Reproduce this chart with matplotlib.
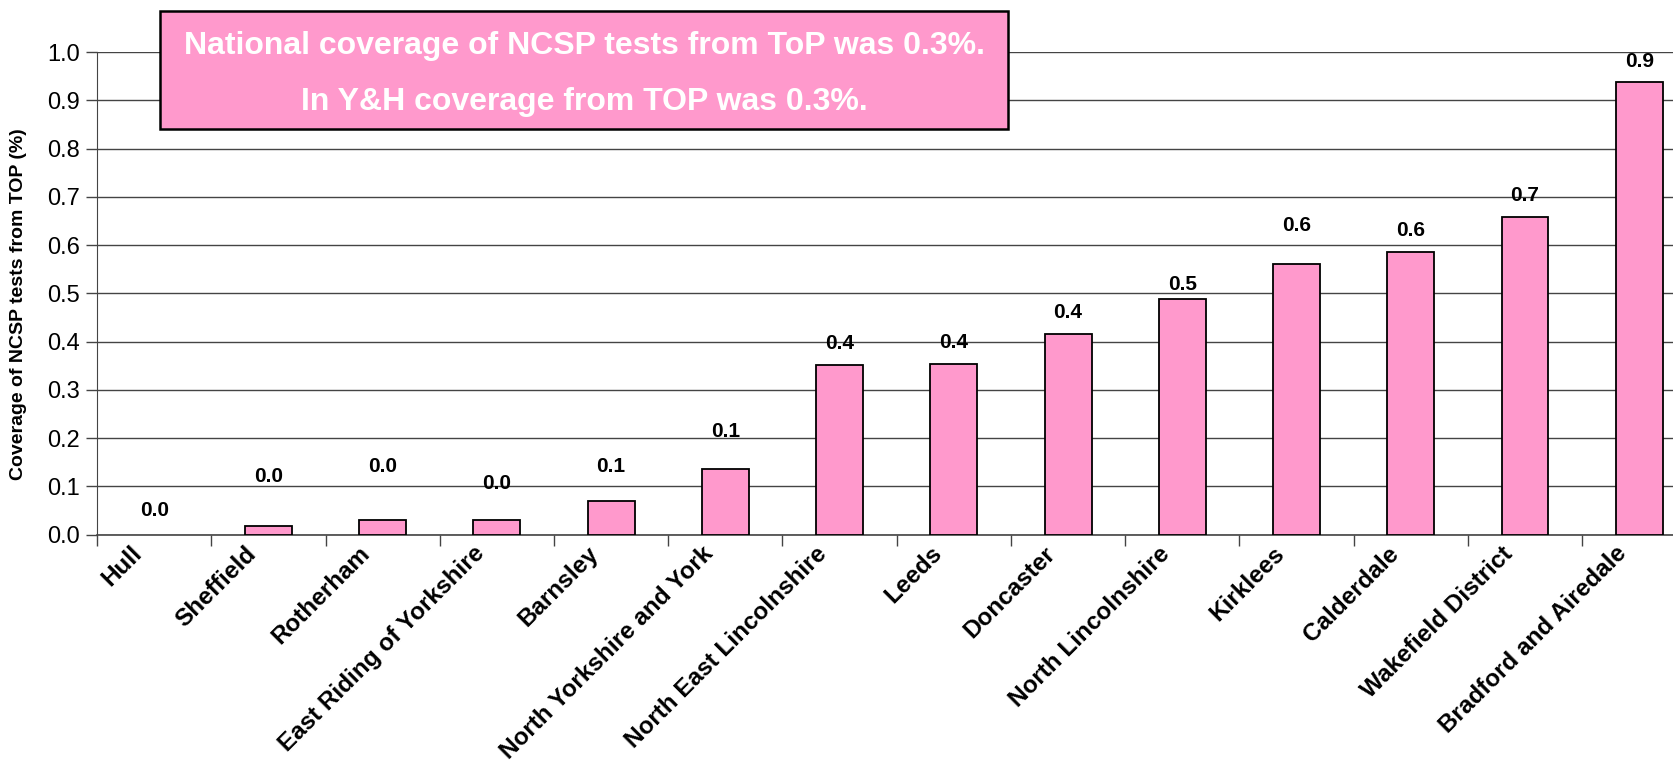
import matplotlib
matplotlib.use('Agg')
import matplotlib.pyplot as plt
import matplotlib.transforms as mtransforms
import numpy as np

# PCT areas, ordered by coverage
areas = ['Hull', 'Sheffield', 'Rotherham', 'East Riding of Yorkshire', 'Barnsley',
         'North Yorkshire and York', 'North East Lincolnshire', 'Leeds', 'Doncaster',
         'North Lincolnshire', 'Kirklees', 'Calderdale', 'Wakefield District',
         'Bradford and Airedale']
coverage = [0.0, 0.018, 0.03, 0.03, 0.069, 0.137, 0.352, 0.354, 0.416, 0.489,
            0.562, 0.586, 0.659, 0.938]

# how far (pixels) each value label sits above its bar
label_lift = [24, 49, 54, 37, 35, 37, 21, 21, 21, 14, 38, 21, 21, 21]

note_lines = ['National coverage of NCSP tests from ToP was 0.3%.',
              'In Y&H coverage from TOP was 0.3%.']

plt.rcParams['font.family'] = ['Liberation Sans', 'DejaVu Sans']

fig = plt.figure(figsize=(16.73, 7.8), dpi=100)
ax = fig.add_axes([0.058, 0.3146, 0.956, 0.6184])

x = np.arange(len(areas))
edge_w = [1.3 if v > 0 else 0 for v in coverage]
ax.bar(x, coverage, width=0.41, color='#ff99cc', edgecolor='black', linewidth=edge_w, zorder=3)

for xi, v, lift in zip(x, coverage, label_lift):
    ax.annotate(f'{v:.1f}', (xi, v), xytext=(0, lift), textcoords='offset pixels',
                ha='center', va='center', fontsize=15, fontweight='bold', zorder=4)

ax.set_xlim(-0.5, len(areas) - 0.5)
ax.set_ylim(0, 1.0)
yt = np.arange(0, 1.01, 0.1)
ax.set_yticks(yt)
ax.set_yticklabels([f'{t:.1f}' for t in yt], fontsize=17)
ax.grid(axis='y', color='#444444', linewidth=1.0, zorder=0)
ax.set_axisbelow(True)

ax.set_xticks(x)
labels = ax.set_xticklabels(areas, rotation=45, ha='right', rotation_mode='anchor',
                            fontsize=17.5, fontweight='bold')
ax.tick_params(axis='x', length=0, pad=14)
shift = mtransforms.ScaledTranslation(-24 / 100, 12 / 100, fig.dpi_scale_trans)
for lab in labels:
    lab.set_transform(lab.get_transform() + shift)
# tick marks sit between categories
ax.set_xticks(np.arange(-0.5, len(areas), 1.0), minor=True)
ax.tick_params(axis='x', which='minor', length=8, width=1, color='#444444')
ax.tick_params(axis='y', length=8, width=1, color='#444444', pad=4)

for s in ['top', 'right']:
    ax.spines[s].set_visible(False)
ax.spines['left'].set_color('#444444')
ax.spines['bottom'].set_color('#444444')
ax.spines['bottom'].set_linewidth(1.2)

ax.set_ylabel('Coverage of NCSP tests from TOP (%)', fontsize=14, fontweight='bold')
ax.yaxis.set_label_coords(-0.044, 0.478)

# summary box at the top of the plot
box = plt.Rectangle((160 / 1673, 1 - 129 / 780), 848 / 1673, 118 / 780,
                    transform=fig.transFigure, facecolor='#ff99cc', edgecolor='black',
                    linewidth=1.8, zorder=5)
fig.add_artist(box)
fig.text(584 / 1673, 1 - 46 / 780, note_lines[0], color='white', fontsize=23,
         fontweight='bold', ha='center', va='center', zorder=6)
fig.text(584 / 1673, 1 - 102 / 780, note_lines[1], color='white', fontsize=23,
         fontweight='bold', ha='center', va='center', zorder=6)

fig.savefig('out.png', dpi=100)
